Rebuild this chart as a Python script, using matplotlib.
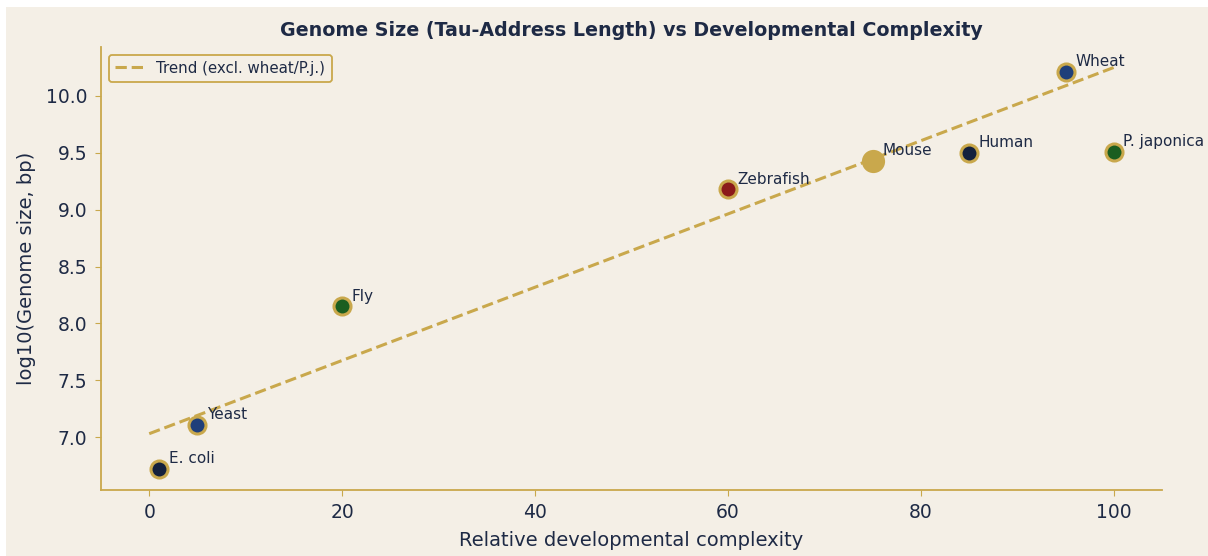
import matplotlib
matplotlib.use("Agg")
import matplotlib.pyplot as plt
from matplotlib.patches import Rectangle

# ---- data ----
organisms = ["E. coli", "Yeast", "Fly", "Zebrafish", "Mouse", "Human", "Wheat", "P. japonica"]
complexity = [1, 5, 20, 60, 75, 85, 95, 100]
log_genome = [6.72, 7.11, 8.15, 9.18, 9.43, 9.50, 10.21, 9.51]
trend_x = [0, 100]
trend_y = [7.03, 10.25]
trend_label = "Trend (excl. wheat/P.j.)"
x_ticks = [0, 20, 40, 60, 80, 100]
y_ticks = [7.0, 7.5, 8.0, 8.5, 9.0, 9.5, 10.0]

# ---- style ----
BG = "#F4EFE6"
GOLD = "#C9A84C"
NAVY = "#1E2A45"
face_colors = {
    "E. coli": "#14213D", "Yeast": "#1F3F7A", "Fly": "#1B5E20", "Zebrafish": "#8B1A1A",
    "Mouse": "#C9A84C", "Human": "#14213D", "Wheat": "#1F3F7A", "P. japonica": "#1B5E20",
}
marker_sizes = {"Mouse": 210}
default_size = 150

fig = plt.figure(figsize=(12.08, 5.56), dpi=100, facecolor="white")
fig.patches.append(Rectangle((6 / 1208, 0), 1, 1 - 7 / 556, transform=fig.transFigure,
                             facecolor=BG, edgecolor="none", zorder=-10))
ax = fig.add_axes([101 / 1208, 1 - 490 / 556, (1162 - 101) / 1208, (490 - 47) / 556])
ax.set_facecolor(BG)

ax.plot(trend_x, trend_y, linestyle="--", color=GOLD, linewidth=2.2, label=trend_label, zorder=2)

for name, xv, yv in zip(organisms, complexity, log_genome):
    ax.scatter(xv, yv, s=marker_sizes.get(name, default_size), color=face_colors[name],
               edgecolors=GOLD, linewidths=2.2, zorder=3)
    ax.annotate(name, (xv, yv), xytext=(7, 4), textcoords="offset points",
                fontsize=11, color=NAVY, zorder=4)

ax.set_xlim(-5, 105)
ax.set_ylim(6.535, 10.43)
ax.set_xticks(x_ticks)
ax.set_yticks(y_ticks)
ax.set_yticklabels([f"{v:.1f}" for v in y_ticks])
ax.tick_params(colors=NAVY, labelsize=13.5, length=4, color=GOLD)
ax.tick_params(axis="y", pad=6)
ax.tick_params(axis="x", pad=5)

for s in ["top", "right"]:
    ax.spines[s].set_visible(False)
for s in ["left", "bottom"]:
    ax.spines[s].set_color(GOLD)
    ax.spines[s].set_linewidth(1.3)

ax.set_xlabel("Relative developmental complexity", fontsize=14, color=NAVY, labelpad=7)
ax.set_ylabel("log10(Genome size, bp)", fontsize=14, color=NAVY, labelpad=7)
ax.set_title("Genome Size (Tau-Address Length) vs Developmental Complexity",
             fontsize=13.7, fontweight="bold", color=NAVY, pad=8)

leg = ax.legend(loc="upper left", fontsize=10.8, frameon=True, facecolor=BG,
                edgecolor=GOLD, labelcolor=NAVY, framealpha=1, borderaxespad=0.5)
leg.get_frame().set_linewidth(1.3)

fig.savefig("out.png", dpi=100, facecolor=fig.get_facecolor())
